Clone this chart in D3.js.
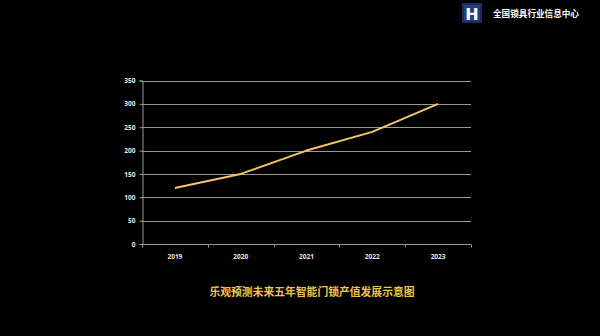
<!DOCTYPE html>
<html>
<head>
<meta charset="utf-8">
<script src="https://cdn.jsdelivr.net/npm/d3@7"></script>
<style>
  html, body { margin: 0; padding: 0; background: #000; }
  svg { display: block; }
</style>
</head>
<body>
<svg id="chart" width="600" height="336"></svg>
<script>
// Projected smart-lock output value, 2019–2023
const years = ["2019", "2020", "2021", "2022", "2023"];
const values = [120, 150, 200, 240, 300];
const yTicks = [0, 50, 100, 150, 200, 250, 300, 350];
const chartTitle = "乐观预测未来五年智能门锁产值发展示意图";
const brandName = "全国锁具行业信息中心";

const svg = d3.select("#chart");
const W = 600, H = 336;
svg.append("rect").attr("width", W).attr("height", H).attr("fill", "#000");

const margin = { left: 142, right: 129, top: 80.5, bottom: 92 };
const x = d3.scaleBand().domain(years).range([margin.left, W - margin.right]);
const y = d3.scaleLinear().domain([0, 350]).range([H - margin.bottom, margin.top]);

// horizontal gridlines
svg.append("g")
  .selectAll("line")
  .data(yTicks.filter(d => d > 0))
  .join("line")
  .attr("x1", margin.left).attr("x2", W - margin.right)
  .attr("y1", d => Math.round(y(d)) + 0.5).attr("y2", d => Math.round(y(d)) + 0.5)
  .attr("stroke", "#9a9a9a").attr("stroke-width", 1);

// y axis
const yAxis = svg.append("g")
  .attr("transform", `translate(${margin.left + 0.5},0)`)
  .call(d3.axisLeft(y).tickValues(yTicks).tickSize(3).tickPadding(4));
yAxis.select(".domain").attr("stroke", "#9a9a9a");
yAxis.selectAll(".tick line").attr("stroke", "#9a9a9a");
yAxis.selectAll("text")
  .attr("fill", "#e8e8e8")
  .attr("font-family", "'Open Sans', sans-serif")
  .attr("font-weight", "bold")
  .attr("font-size", 6.5);

// x axis with ticks at band boundaries
const xAxisY = Math.round(y(0)) + 0.5;
const xg = svg.append("g");
xg.append("line")
  .attr("x1", margin.left).attr("x2", W - margin.right)
  .attr("y1", xAxisY).attr("y2", xAxisY)
  .attr("stroke", "#9a9a9a");
const bounds = years.map(d => x(d)).concat([x(years[years.length - 1]) + x.bandwidth()]);
xg.selectAll("line.tk")
  .data(bounds)
  .join("line")
  .attr("class", "tk")
  .attr("x1", d => Math.round(d) + 0.5).attr("x2", d => Math.round(d) + 0.5)
  .attr("y1", xAxisY).attr("y2", xAxisY + 3)
  .attr("stroke", "#9a9a9a");
xg.selectAll("text")
  .data(years)
  .join("text")
  .attr("x", d => x(d) + x.bandwidth() / 2)
  .attr("y", xAxisY + 14)
  .attr("text-anchor", "middle")
  .attr("fill", "#e8e8e8")
  .attr("font-family", "'Open Sans', sans-serif")
  .attr("font-weight", "bold")
  .attr("font-size", 6.5)
  .text(d => d);

// value line
const line = d3.line()
  .x((d, i) => x(years[i]) + x.bandwidth() / 2)
  .y(d => y(d));
svg.append("path")
  .datum(values)
  .attr("d", line)
  .attr("fill", "none")
  .attr("stroke", "#f4c56a")
  .attr("stroke-width", 2)
  .attr("stroke-linejoin", "round");

// title below the chart
svg.append("text")
  .attr("x", 312)
  .attr("y", 296)
  .attr("text-anchor", "middle")
  .attr("fill", "#f2c541")
  .attr("font-family", "'Noto Sans CJK SC', sans-serif")
  .attr("font-weight", "bold")
  .attr("font-size", 10.8)
  .text(chartTitle);

// brand mark in the top-right corner
const logo = svg.append("g").attr("transform", "translate(462,3)");
logo.append("rect").attr("width", 20).attr("height", 20).attr("fill", "#1d2c5e");
logo.append("rect").attr("x", 2).attr("y", 2).attr("width", 16).attr("height", 16).attr("fill", "#2a3b78");
logo.append("text")
  .attr("x", 10).attr("y", 16.5)
  .attr("text-anchor", "middle")
  .attr("fill", "#fff")
  .attr("font-family", "'DejaVu Sans', sans-serif")
  .attr("font-weight", "bold")
  .attr("font-size", 16)
  .text("H");
svg.append("text")
  .attr("x", 493)
  .attr("y", 16.5)
  .attr("fill", "#fff")
  .attr("font-family", "'Noto Sans CJK SC', sans-serif")
  .attr("font-weight", "bold")
  .attr("font-size", 8.6)
  .text(brandName);
</script>
</body>
</html>
